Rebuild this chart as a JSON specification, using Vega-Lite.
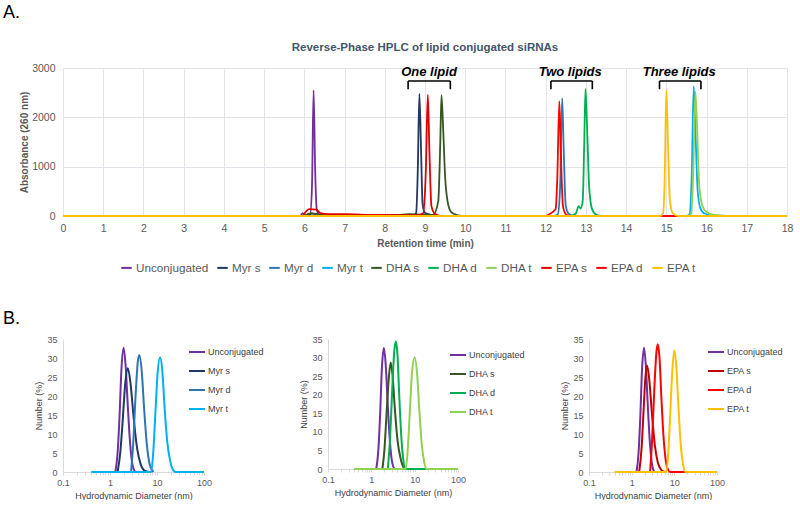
{
  "$schema": "https://vega.github.io/schema/vega-lite/v6.json",
  "background": "white",
  "padding": {"left": 3, "top": 3, "right": 5, "bottom": 0},
  "config": {
    "font": "Liberation Sans",
    "view": {"stroke": null},
    "title": {"font": "Liberation Sans"},
    "axis": {"labelFont": "Liberation Sans", "titleFont": "Liberation Sans"},
    "legend": {"labelFont": "Liberation Sans"}
  },
  "title": {"text": "A.", "anchor": "start", "frame": "group", "fontSize": 18, "fontWeight": "normal", "color": "#000000", "offset": 20, "dx": -60},
  "resolve": {"scale": {"color": "independent"}, "legend": {"color": "independent"}},
  "datasets": {
    "hplc": [
      {"s":"Unconjugated","t":0,"a":0},{"s":"Unconjugated","t":5.9,"a":0},{"s":"Unconjugated","t":5.96,"a":60},{"s":"Unconjugated","t":6.02,"a":10},{"s":"Unconjugated","t":6.14,"a":10},{"s":"Unconjugated","t":6.19,"a":600},{"s":"Unconjugated","t":6.23,"a":2550},{"s":"Unconjugated","t":6.27,"a":900},{"s":"Unconjugated","t":6.31,"a":120},{"s":"Unconjugated","t":6.38,"a":20},{"s":"Unconjugated","t":6.6,"a":0},{"s":"Unconjugated","t":18,"a":0},
      {"s":"Myr s","t":0,"a":0},{"s":"Myr s","t":6.0,"a":0},{"s":"Myr s","t":6.1,"a":40},{"s":"Myr s","t":6.2,"a":50},{"s":"Myr s","t":6.35,"a":30},{"s":"Myr s","t":6.6,"a":10},{"s":"Myr s","t":8.7,"a":5},{"s":"Myr s","t":8.78,"a":60},{"s":"Myr s","t":8.82,"a":900},{"s":"Myr s","t":8.86,"a":2480},{"s":"Myr s","t":8.9,"a":1400},{"s":"Myr s","t":8.94,"a":250},{"s":"Myr s","t":9.0,"a":60},{"s":"Myr s","t":9.15,"a":25},{"s":"Myr s","t":9.5,"a":0},{"s":"Myr s","t":18,"a":0},
      {"s":"Myr d","t":0,"a":0},{"s":"Myr d","t":12.2,"a":0},{"s":"Myr d","t":12.3,"a":30},{"s":"Myr d","t":12.36,"a":600},{"s":"Myr d","t":12.41,"a":2390},{"s":"Myr d","t":12.45,"a":1300},{"s":"Myr d","t":12.5,"a":200},{"s":"Myr d","t":12.58,"a":40},{"s":"Myr d","t":12.7,"a":0},{"s":"Myr d","t":18,"a":0},
      {"s":"Myr t","t":0,"a":0},{"s":"Myr t","t":15.5,"a":0},{"s":"Myr t","t":15.58,"a":40},{"s":"Myr t","t":15.63,"a":800},{"s":"Myr t","t":15.68,"a":2630},{"s":"Myr t","t":15.72,"a":1800},{"s":"Myr t","t":15.78,"a":500},{"s":"Myr t","t":15.85,"a":150},{"s":"Myr t","t":15.95,"a":50},{"s":"Myr t","t":16.2,"a":10},{"s":"Myr t","t":16.5,"a":0},{"s":"Myr t","t":18,"a":0},
      {"s":"DHA s","t":0,"a":0},{"s":"DHA s","t":6.0,"a":0},{"s":"DHA s","t":6.15,"a":60},{"s":"DHA s","t":6.3,"a":40},{"s":"DHA s","t":6.5,"a":10},{"s":"DHA s","t":8.3,"a":20},{"s":"DHA s","t":8.6,"a":35},{"s":"DHA s","t":9.2,"a":20},{"s":"DHA s","t":9.33,"a":300},{"s":"DHA s","t":9.38,"a":1500},{"s":"DHA s","t":9.41,"a":2450},{"s":"DHA s","t":9.45,"a":1800},{"s":"DHA s","t":9.5,"a":800},{"s":"DHA s","t":9.56,"a":300},{"s":"DHA s","t":9.65,"a":80},{"s":"DHA s","t":9.8,"a":20},{"s":"DHA s","t":10.0,"a":0},{"s":"DHA s","t":18,"a":0},
      {"s":"DHA d","t":0,"a":0},{"s":"DHA d","t":12.6,"a":0},{"s":"DHA d","t":12.75,"a":50},{"s":"DHA d","t":12.82,"a":200},{"s":"DHA d","t":12.87,"a":150},{"s":"DHA d","t":12.92,"a":300},{"s":"DHA d","t":12.96,"a":1500},{"s":"DHA d","t":12.99,"a":2575},{"s":"DHA d","t":13.03,"a":1800},{"s":"DHA d","t":13.08,"a":600},{"s":"DHA d","t":13.15,"a":150},{"s":"DHA d","t":13.25,"a":30},{"s":"DHA d","t":13.4,"a":0},{"s":"DHA d","t":18,"a":0},
      {"s":"DHA t","t":0,"a":0},{"s":"DHA t","t":15.55,"a":0},{"s":"DHA t","t":15.62,"a":50},{"s":"DHA t","t":15.67,"a":900},{"s":"DHA t","t":15.72,"a":2520},{"s":"DHA t","t":15.76,"a":1900},{"s":"DHA t","t":15.82,"a":600},{"s":"DHA t","t":15.9,"a":200},{"s":"DHA t","t":16.0,"a":80},{"s":"DHA t","t":16.2,"a":20},{"s":"DHA t","t":16.5,"a":0},{"s":"DHA t","t":18,"a":0},
      {"s":"EPA s","t":0,"a":0},{"s":"EPA s","t":5.95,"a":0},{"s":"EPA s","t":6.05,"a":100},{"s":"EPA s","t":6.12,"a":140},{"s":"EPA s","t":6.3,"a":130},{"s":"EPA s","t":6.4,"a":60},{"s":"EPA s","t":6.6,"a":40},{"s":"EPA s","t":7.0,"a":40},{"s":"EPA s","t":7.5,"a":20},{"s":"EPA s","t":8.0,"a":20},{"s":"EPA s","t":8.8,"a":15},{"s":"EPA s","t":8.95,"a":50},{"s":"EPA s","t":9.02,"a":900},{"s":"EPA s","t":9.07,"a":2460},{"s":"EPA s","t":9.11,"a":1300},{"s":"EPA s","t":9.16,"a":200},{"s":"EPA s","t":9.25,"a":40},{"s":"EPA s","t":9.4,"a":0},{"s":"EPA s","t":18,"a":0},
      {"s":"EPA d","t":0,"a":0},{"s":"EPA d","t":12.0,"a":0},{"s":"EPA d","t":12.1,"a":40},{"s":"EPA d","t":12.2,"a":100},{"s":"EPA d","t":12.25,"a":150},{"s":"EPA d","t":12.29,"a":800},{"s":"EPA d","t":12.34,"a":2330},{"s":"EPA d","t":12.38,"a":1200},{"s":"EPA d","t":12.43,"a":200},{"s":"EPA d","t":12.5,"a":40},{"s":"EPA d","t":12.6,"a":0},{"s":"EPA d","t":18,"a":0},
      {"s":"EPA t","t":0,"a":0},{"s":"EPA t","t":14.85,"a":0},{"s":"EPA t","t":14.92,"a":60},{"s":"EPA t","t":14.96,"a":800},{"s":"EPA t","t":15.0,"a":2555},{"s":"EPA t","t":15.04,"a":1500},{"s":"EPA t","t":15.09,"a":300},{"s":"EPA t","t":15.16,"a":60},{"s":"EPA t","t":15.3,"a":0},{"s":"EPA t","t":18,"a":0}
    ],
    "brackets": [
      {"x1":8.58,"x2":9.63,"y1":2736,"y2":2736},{"x1":8.58,"x2":8.58,"y1":2736,"y2":2570},{"x1":9.63,"x2":9.63,"y1":2736,"y2":2570},
      {"x1":12.13,"x2":13.16,"y1":2736,"y2":2736},{"x1":12.13,"x2":12.13,"y1":2736,"y2":2570},{"x1":13.16,"x2":13.16,"y1":2736,"y2":2570},
      {"x1":14.83,"x2":15.86,"y1":2736,"y2":2736},{"x1":14.83,"x2":14.83,"y1":2736,"y2":2570},{"x1":15.86,"x2":15.86,"y1":2736,"y2":2570}
    ],
    "groupLabels": [
      {"x":9.1,"y":2920,"label":"One lipid"},{"x":12.61,"y":2920,"label":"Two lipids"},{"x":15.32,"y":2920,"label":"Three lipids"}
    ],
    "dls1": [
      {"s":"Unconjugated","d":1.3,"n":0},{"s":"Unconjugated","d":1.45,"n":5},{"s":"Unconjugated","d":1.6,"n":15},{"s":"Unconjugated","d":1.75,"n":27},{"s":"Unconjugated","d":1.95,"n":32.7},{"s":"Unconjugated","d":2.15,"n":28},{"s":"Unconjugated","d":2.4,"n":17},{"s":"Unconjugated","d":2.7,"n":7},{"s":"Unconjugated","d":3.0,"n":2},{"s":"Unconjugated","d":3.4,"n":0},
      {"s":"Myr s","d":1.45,"n":0},{"s":"Myr s","d":1.65,"n":5},{"s":"Myr s","d":1.85,"n":13},{"s":"Myr s","d":2.1,"n":23},{"s":"Myr s","d":2.4,"n":27.3},{"s":"Myr s","d":2.75,"n":23},{"s":"Myr s","d":3.2,"n":14},{"s":"Myr s","d":3.8,"n":6},{"s":"Myr s","d":4.5,"n":2},{"s":"Myr s","d":5.5,"n":0.3},{"s":"Myr s","d":6.8,"n":0},
      {"s":"Myr d","d":2.8,"n":0},{"s":"Myr d","d":3.1,"n":7},{"s":"Myr d","d":3.5,"n":20},{"s":"Myr d","d":3.9,"n":29},{"s":"Myr d","d":4.2,"n":30.8},{"s":"Myr d","d":4.7,"n":27},{"s":"Myr d","d":5.3,"n":17},{"s":"Myr d","d":6.0,"n":8},{"s":"Myr d","d":7.0,"n":2},{"s":"Myr d","d":8.4,"n":0},
      {"s":"Myr t","d":0.4,"n":0},{"s":"Myr t","d":7.5,"n":0},{"s":"Myr t","d":8.3,"n":5},{"s":"Myr t","d":9.2,"n":15},{"s":"Myr t","d":10.3,"n":26},{"s":"Myr t","d":11.6,"n":30.1},{"s":"Myr t","d":12.9,"n":27},{"s":"Myr t","d":14.5,"n":17},{"s":"Myr t","d":16.5,"n":8},{"s":"Myr t","d":19,"n":3},{"s":"Myr t","d":22,"n":0.5},{"s":"Myr t","d":25,"n":0},{"s":"Myr t","d":100,"n":0}
    ],
    "dls2": [
      {"s":"Unconjugated","d":1.3,"n":0},{"s":"Unconjugated","d":1.45,"n":5},{"s":"Unconjugated","d":1.6,"n":15},{"s":"Unconjugated","d":1.75,"n":27},{"s":"Unconjugated","d":1.95,"n":32.6},{"s":"Unconjugated","d":2.15,"n":28},{"s":"Unconjugated","d":2.4,"n":17},{"s":"Unconjugated","d":2.7,"n":7},{"s":"Unconjugated","d":3.0,"n":2},{"s":"Unconjugated","d":3.4,"n":0},
      {"s":"DHA s","d":1.8,"n":0},{"s":"DHA s","d":2.0,"n":5},{"s":"DHA s","d":2.25,"n":15},{"s":"DHA s","d":2.55,"n":25},{"s":"DHA s","d":2.8,"n":28.7},{"s":"DHA s","d":3.1,"n":25},{"s":"DHA s","d":3.5,"n":16},{"s":"DHA s","d":4.0,"n":8},{"s":"DHA s","d":4.7,"n":3},{"s":"DHA s","d":5.5,"n":0.5},{"s":"DHA s","d":6.2,"n":0},
      {"s":"DHA d","d":2.4,"n":0},{"s":"DHA d","d":2.7,"n":8},{"s":"DHA d","d":3.0,"n":20},{"s":"DHA d","d":3.4,"n":32},{"s":"DHA d","d":3.7,"n":34.3},{"s":"DHA d","d":4.0,"n":31},{"s":"DHA d","d":4.4,"n":20},{"s":"DHA d","d":4.9,"n":9},{"s":"DHA d","d":5.4,"n":3},{"s":"DHA d","d":6.0,"n":0},{"s":"DHA d","d":20,"n":0},
      {"s":"DHA t","d":0.4,"n":0},{"s":"DHA t","d":6.2,"n":0},{"s":"DHA t","d":6.9,"n":5},{"s":"DHA t","d":7.7,"n":15},{"s":"DHA t","d":8.7,"n":26},{"s":"DHA t","d":10,"n":30},{"s":"DHA t","d":11.3,"n":26},{"s":"DHA t","d":12.8,"n":16},{"s":"DHA t","d":14.5,"n":7},{"s":"DHA t","d":16.5,"n":2},{"s":"DHA t","d":19,"n":0},{"s":"DHA t","d":100,"n":0}
    ],
    "dls3": [
      {"s":"Unconjugated","d":1.3,"n":0},{"s":"Unconjugated","d":1.45,"n":5},{"s":"Unconjugated","d":1.6,"n":15},{"s":"Unconjugated","d":1.75,"n":27},{"s":"Unconjugated","d":1.95,"n":32.7},{"s":"Unconjugated","d":2.15,"n":28},{"s":"Unconjugated","d":2.4,"n":17},{"s":"Unconjugated","d":2.7,"n":7},{"s":"Unconjugated","d":3.0,"n":2},{"s":"Unconjugated","d":3.4,"n":0},
      {"s":"EPA s","d":1.5,"n":0},{"s":"EPA s","d":1.7,"n":6},{"s":"EPA s","d":1.9,"n":16},{"s":"EPA s","d":2.1,"n":25},{"s":"EPA s","d":2.3,"n":28},{"s":"EPA s","d":2.6,"n":24},{"s":"EPA s","d":3.0,"n":15},{"s":"EPA s","d":3.5,"n":7},{"s":"EPA s","d":4.1,"n":2.5},{"s":"EPA s","d":5.0,"n":0.5},{"s":"EPA s","d":6.0,"n":0},
      {"s":"EPA d","d":2.7,"n":0},{"s":"EPA d","d":3.0,"n":8},{"s":"EPA d","d":3.4,"n":22},{"s":"EPA d","d":3.8,"n":31.5},{"s":"EPA d","d":4.1,"n":33.6},{"s":"EPA d","d":4.5,"n":30},{"s":"EPA d","d":5.0,"n":19},{"s":"EPA d","d":5.6,"n":9},{"s":"EPA d","d":6.3,"n":3},{"s":"EPA d","d":7.2,"n":0.5},{"s":"EPA d","d":8.0,"n":0},{"s":"EPA d","d":18,"n":0},
      {"s":"EPA t","d":0.4,"n":0},{"s":"EPA t","d":6.5,"n":0},{"s":"EPA t","d":7.2,"n":5},{"s":"EPA t","d":8.0,"n":15},{"s":"EPA t","d":9.0,"n":27},{"s":"EPA t","d":10,"n":32},{"s":"EPA t","d":11.1,"n":28},{"s":"EPA t","d":12.5,"n":17},{"s":"EPA t","d":14.2,"n":7},{"s":"EPA t","d":16,"n":2},{"s":"EPA t","d":18.5,"n":0},{"s":"EPA t","d":100,"n":0}
    ]
  },
  "spacing": 35,
  "vconcat": [
    {
      "width": 724,
      "height": 148,
      "title": {"text": "Reverse-Phase HPLC of lipid conjugated siRNAs", "fontSize": 11.5, "fontWeight": "bold", "color": "#44546A", "anchor": "middle", "offset": 10},
      "layer": [
        {
          "data": {"name": "hplc"},
          "mark": {"type": "line", "strokeWidth": 1.8, "interpolate": "monotone"},
          "encoding": {
            "x": {"field": "t", "type": "quantitative", "scale": {"domain": [0, 18], "nice": false},
              "axis": {"values": [0,1,2,3,4,5,6,7,8,9,10,11,12,13,14,15,16,17,18], "grid": true, "gridColor": "#E4E4EC", "domain": false, "ticks": false, "labelFontSize": 10.5, "labelColor": "#595959", "labelPadding": 7, "labelFlush": false, "title": "Retention time (min)", "titleFontSize": 10, "titleFontWeight": "bold", "titleColor": "#595959", "titlePadding": 5}},
            "y": {"field": "a", "type": "quantitative", "scale": {"domain": [0, 3000], "nice": false},
              "axis": {"values": [0,500,1000,1500,2000,2500,3000], "format": "d", "grid": true, "gridColor": "#E4E4EC", "domain": false, "ticks": false, "labelFontSize": 10.5, "labelColor": "#595959", "labelPadding": 8, "title": "Absorbance (260 nm)", "titleFontSize": 10, "titleFontWeight": "bold", "titleColor": "#595959", "titlePadding": 2}},
            "color": {"field": "s", "type": "nominal",
              "scale": {"domain": ["Unconjugated","Myr s","Myr d","Myr t","DHA s","DHA d","DHA t","EPA s","EPA d","EPA t"], "range": ["#7030A0","#1F3864","#2E75B6","#00B0F0","#375623","#00B050","#92D050","#E00000","#FF0000","#FFC000"]},
              "legend": {"orient": "none", "direction": "horizontal", "legendX": 57, "legendY": 193, "title": null, "symbolType": "stroke", "symbolSize": 110, "symbolStrokeWidth": 2, "labelFontSize": 11.7, "labelColor": "#595959", "labelOffset": 3, "columnPadding": 4}}
          }
        },
        {
          "data": {"name": "brackets"},
          "mark": {"type": "rule", "strokeWidth": 1.6, "color": "#000000"},
          "encoding": {
            "x": {"field": "x1", "type": "quantitative"},
            "x2": {"field": "x2"},
            "y": {"field": "y1", "type": "quantitative"},
            "y2": {"field": "y2"}
          }
        },
        {
          "data": {"name": "groupLabels"},
          "mark": {"type": "text", "fontSize": 13, "fontWeight": "bold", "fontStyle": "italic", "color": "#000000", "baseline": "middle"},
          "encoding": {
            "x": {"field": "x", "type": "quantitative"},
            "y": {"field": "y", "type": "quantitative"},
            "text": {"field": "label"}
          }
        }
      ]
    },
    {
      "title": {"text": "B.", "anchor": "start", "frame": "group", "fontSize": 18, "fontWeight": "normal", "color": "#000000", "offset": 7, "dx": -60},
      "spacing": 35,
      "resolve": {"scale": {"color": "independent"}, "legend": {"color": "independent"}},
      "hconcat": [
        {
          "width": 141, "height": 133,
          "data": {"name": "dls1"},
          "mark": {"type": "line", "strokeWidth": 2, "interpolate": "monotone"},
          "encoding": {
            "x": {"field": "d", "type": "quantitative", "scale": {"type": "log", "domain": [0.1, 100], "nice": false},
              "axis": {"values": [0.1,0.2,0.3,0.4,0.5,0.6,0.7,0.8,0.9,1,2,3,4,5,6,7,8,9,10,20,30,40,50,60,70,80,90,100], "labelExpr": "(datum.value == 0.1 || datum.value == 1 || datum.value == 10 || datum.value == 100) ? datum.label : ''", "format": "~g", "labelOverlap": false, "labelFlush": false, "grid": false, "domainColor": "#D9D9D9", "tickColor": "#D9D9D9", "tickSize": 3, "labelFontSize": 9, "labelColor": "#595959", "labelPadding": 3, "title": "Hydrodynamic Diameter (nm)", "titleFontSize": 9, "titleFontWeight": "normal", "titleColor": "#404040", "titlePadding": 4}},
            "y": {"field": "n", "type": "quantitative", "scale": {"domain": [0, 35], "nice": false},
              "axis": {"values": [0,5,10,15,20,25,30,35], "grid": false, "domainColor": "#D9D9D9", "ticks": false, "labelFontSize": 9, "labelColor": "#595959", "labelPadding": 6, "title": "Number (%)", "titleFontSize": 9, "titleFontWeight": "normal", "titleColor": "#404040", "titlePadding": 3}},
            "color": {"field": "s", "type": "nominal",
              "scale": {"domain": ["Unconjugated","Myr s","Myr d","Myr t"], "range": ["#7030A0","#1F3864","#2E75B6","#00B0F0"]},
              "legend": {"orient": "none", "legendX": 125, "legendY": 4, "title": null, "symbolType": "stroke", "symbolSize": 256, "symbolStrokeWidth": 2, "labelFontSize": 9, "labelColor": "#404040", "labelOffset": 2, "rowPadding": 5}}
          }
        },
        {
          "width": 130, "height": 130,
          "data": {"name": "dls2"},
          "mark": {"type": "line", "strokeWidth": 2, "interpolate": "monotone"},
          "encoding": {
            "x": {"field": "d", "type": "quantitative", "scale": {"type": "log", "domain": [0.1, 100], "nice": false},
              "axis": {"values": [0.1,0.2,0.3,0.4,0.5,0.6,0.7,0.8,0.9,1,2,3,4,5,6,7,8,9,10,20,30,40,50,60,70,80,90,100], "labelExpr": "(datum.value == 0.1 || datum.value == 1 || datum.value == 10 || datum.value == 100) ? datum.label : ''", "format": "~g", "labelOverlap": false, "labelFlush": false, "grid": false, "domainColor": "#D9D9D9", "tickColor": "#D9D9D9", "tickSize": 3, "labelFontSize": 9, "labelColor": "#595959", "labelPadding": 3, "title": "Hydrodynamic Diameter (nm)", "titleFontSize": 9, "titleFontWeight": "normal", "titleColor": "#404040", "titlePadding": 4}},
            "y": {"field": "n", "type": "quantitative", "scale": {"domain": [0, 35], "nice": false},
              "axis": {"values": [0,5,10,15,20,25,30,35], "grid": false, "domainColor": "#D9D9D9", "ticks": false, "labelFontSize": 9, "labelColor": "#595959", "labelPadding": 6, "title": "Number (%)", "titleFontSize": 9, "titleFontWeight": "normal", "titleColor": "#404040", "titlePadding": 3}},
            "color": {"field": "s", "type": "nominal",
              "scale": {"domain": ["Unconjugated","DHA s","DHA d","DHA t"], "range": ["#7030A0","#375623","#00B050","#92D050"]},
              "legend": {"orient": "none", "legendX": 121, "legendY": 7, "title": null, "symbolType": "stroke", "symbolSize": 256, "symbolStrokeWidth": 2, "labelFontSize": 9, "labelColor": "#404040", "labelOffset": 2, "rowPadding": 5}}
          }
        },
        {
          "width": 128, "height": 133,
          "data": {"name": "dls3"},
          "mark": {"type": "line", "strokeWidth": 2, "interpolate": "monotone"},
          "encoding": {
            "x": {"field": "d", "type": "quantitative", "scale": {"type": "log", "domain": [0.1, 100], "nice": false},
              "axis": {"values": [0.1,0.2,0.3,0.4,0.5,0.6,0.7,0.8,0.9,1,2,3,4,5,6,7,8,9,10,20,30,40,50,60,70,80,90,100], "labelExpr": "(datum.value == 0.1 || datum.value == 1 || datum.value == 10 || datum.value == 100) ? datum.label : ''", "format": "~g", "labelOverlap": false, "labelFlush": false, "grid": false, "domainColor": "#D9D9D9", "tickColor": "#D9D9D9", "tickSize": 3, "labelFontSize": 9, "labelColor": "#595959", "labelPadding": 3, "title": "Hydrodynamic Diameter (nm)", "titleFontSize": 9, "titleFontWeight": "normal", "titleColor": "#404040", "titlePadding": 4}},
            "y": {"field": "n", "type": "quantitative", "scale": {"domain": [0, 35], "nice": false},
              "axis": {"values": [0,5,10,15,20,25,30,35], "grid": false, "domainColor": "#D9D9D9", "ticks": false, "labelFontSize": 9, "labelColor": "#595959", "labelPadding": 6, "title": "Number (%)", "titleFontSize": 9, "titleFontWeight": "normal", "titleColor": "#404040", "titlePadding": 3}},
            "color": {"field": "s", "type": "nominal",
              "scale": {"domain": ["Unconjugated","EPA s","EPA d","EPA t"], "range": ["#7030A0","#C00000","#FF0000","#FFC000"]},
              "legend": {"orient": "none", "legendX": 118, "legendY": 4, "title": null, "symbolType": "stroke", "symbolSize": 256, "symbolStrokeWidth": 2, "labelFontSize": 9, "labelColor": "#404040", "labelOffset": 2, "rowPadding": 5}}
          }
        }
      ]
    }
  ]
}
